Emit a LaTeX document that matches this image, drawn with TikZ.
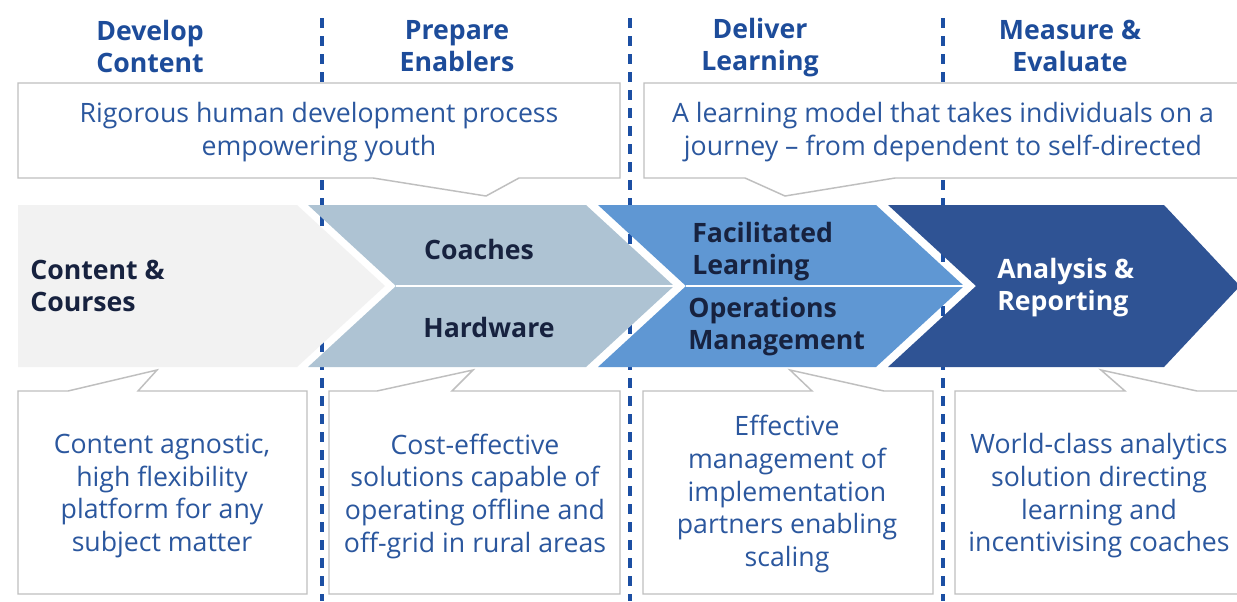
\documentclass[tikz,border=0pt]{standalone}
\usepackage{fontspec}
\setmainfont{Open Sans}
\definecolor{hdr}{HTML}{1D4C9A}
\definecolor{txt}{HTML}{2B579E}
\definecolor{navy}{HTML}{17223F}
\definecolor{cA}{HTML}{F2F2F2}
\definecolor{cB}{HTML}{AEC3D3}
\definecolor{cC}{HTML}{5F97D3}
\definecolor{cD}{HTML}{2F5394}
\definecolor{brd}{HTML}{BFBFBF}
\definecolor{dashc}{HTML}{1C4FA3}
\begin{document}
\begin{tikzpicture}[x=0.75pt,y=-0.75pt,
  hdrtext/.style={font=\fontsize{20}{24}\selectfont\bfseries, text=hdr, align=center, inner sep=0},
  note/.style={font=\fontsize{20}{24.5}\selectfont, text=txt, align=center, inner sep=0},
  chev/.style={font=\fontsize{20}{24}\selectfont\bfseries, text=navy, align=left, inner sep=0},
  callout/.style={draw=brd, line width=1.1pt, fill=white, line join=miter},
  divider/.style={draw=dashc, line width=2.3pt, dash pattern=on 7.5pt off 6pt},
  split/.style={draw=white, line width=1.5pt}]
\useasboundingbox[fill=white] (0,0) rectangle (1237,601);
% dashed dividers
\coordinate (d1t) at (322,18); \coordinate (d1b) at (322,601);
\coordinate (d2t) at (630,18); \coordinate (d2b) at (630,601);
\coordinate (d3t) at (943,18); \coordinate (d3b) at (943,601);
\draw[divider] (d1t) -- (d1b);
\draw[divider] (d2t) -- (d2b);
\draw[divider] (d3t) -- (d3b);
% chevrons
\fill[cA] (18,205) -- (297,205) -- (385,286) -- (297,367) -- (18,367) -- cycle;
\fill[cB] (308,205) -- (586,205) -- (674,286) -- (586,367) -- (308,367) -- (396,286) -- cycle;
\fill[cC] (598,205) -- (876,205) -- (964,286) -- (876,367) -- (598,367) -- (686,286) -- cycle;
\fill[cD] (888,205) -- (1164,205) -- (1240,286) -- (1164,367) -- (888,367) -- (976,286) -- cycle;
\coordinate (s1a) at (396,286); \coordinate (s1b) at (674,286);
\coordinate (s2a) at (686,286); \coordinate (s2b) at (964,286);
\draw[split] (s1a) -- (s1b);
\draw[split] (s2a) -- (s2b);
% top callouts
\draw[callout] (18,83) -- (620,83) -- (620,178) -- (519,178) -- (486,196) -- (373,178) -- (18,178) -- cycle;
\draw[callout] (644,83) -- (1244,83) -- (1244,178) -- (895,178) -- (785,196) -- (745,178) -- (644,178) -- cycle;
% bottom callouts
\draw[callout] (18,391) -- (68,391) -- (157,370) -- (138,391) -- (307,391) -- (307,594) -- (18,594) -- cycle;
\draw[callout] (329,391) -- (377,391) -- (473,370) -- (452,391) -- (620,391) -- (620,594) -- (329,594) -- cycle;
\draw[callout] (643,391) -- (812,391) -- (790,370) -- (884,391) -- (933,391) -- (933,594) -- (643,594) -- cycle;
\draw[callout] (955,391) -- (1125,391) -- (1101,370) -- (1197,391) -- (1245,391) -- (1245,594) -- (955,594) -- cycle;
% headers
\node[hdrtext] (h1) at (150,46) {Develop\\Content};
\node[hdrtext] (h2) at (457,46) {Prepare\\Enablers};
\node[hdrtext] (h3) at (760,48) {Deliver\\Learning};
\node[hdrtext] (h4) at (1070,46) {Measure \&\\Evaluate};
% top notes
\node[note] (ta) at (319,132) {Rigorous human development process\\empowering youth};
\node[note] (tb) at (943,132) {A learning model that takes individuals on a\\journey – from dependent to self-directed};
% chevron labels
\node[chev, anchor=west] (k1) at (30,286) {Content \&\\Courses};
\node[chev] (k2) at (479,249) {Coaches};
\node[chev] (k3) at (489,327) {Hardware};
\node[chev, anchor=west] (k4) at (692,252) {Facilitated\\Learning};
\node[chev, anchor=west] (k5) at (688,327) {Operations\\Management};
\node[chev, anchor=west, text=white] (k6) at (997,288) {Analysis \&\\Reporting};
% bottom notes
\node[note] (b1) at (162,496) {Content agnostic,\\high flexibility\\platform for any\\subject matter};
\node[note] (b2) at (475,496) {Cost-effective\\solutions capable of\\operating offline and\\off-grid in rural areas};
\node[note] (b3) at (787,494) {Effective\\management of\\implementation\\partners enabling\\scaling};
\node[note] (b4) at (1099,496) {World-class analytics\\solution directing\\learning and\\incentivising coaches};
\end{tikzpicture}
\end{document}
